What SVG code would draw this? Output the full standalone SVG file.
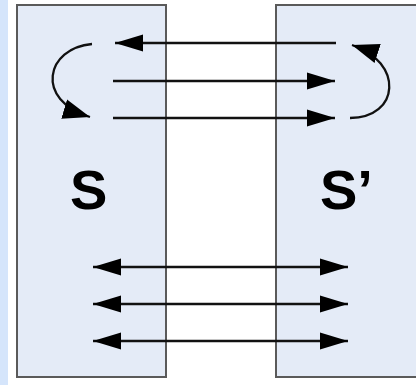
<svg xmlns="http://www.w3.org/2000/svg" width="416" height="385" viewBox="0 0 416 385">
  <style>
    .frame { fill: #e4ebf7; stroke: #5a5a5a; stroke-width: 2; }
    .label { font-family: "Liberation Sans", Arial, sans-serif; font-weight: bold; font-size: 56px; fill: #000; }
    .link { fill: none; stroke: #111; stroke-width: 2.6; }
    .loop { fill: none; stroke: #111; stroke-width: 2.3; marker-end: url(#loophead); }
    .one { marker-end: url(#head); }
    .both { marker-start: url(#head); marker-end: url(#head); }
  </style>
  <defs>
    <marker id="head" markerUnits="userSpaceOnUse" markerWidth="30" markerHeight="20" viewBox="0 0 30 20" refX="28" refY="10" orient="auto-start-reverse">
      <path d="M0,1.5 L28,10 L0,18.5 Z" fill="#000"/>
    </marker>
    <marker id="loophead" markerUnits="userSpaceOnUse" markerWidth="30" markerHeight="24" viewBox="0 0 30 24" refX="27" refY="12" orient="auto">
      <path d="M0,2 L27,12 L0,22 Z" fill="#000"/>
    </marker>
  </defs>

  <rect x="0" y="0" width="416" height="385" fill="#ffffff"/>
  <rect x="0" y="0" width="8" height="385" fill="#d5e5fb"/>

  <g id="node-s">
    <rect class="frame" x="17" y="5" width="149" height="372"/>
    <text class="label" x="70" y="209">S</text>
  </g>

  <g id="node-s-prime">
    <rect class="frame" x="276" y="5" width="150" height="372"/>
    <text class="label" x="320" y="209">S’</text>
  </g>

  <g id="connectors">
    <line class="link one" x1="336" y1="43" x2="115" y2="43"/>
    <line class="link one" x1="113" y1="81" x2="335" y2="81"/>
    <line class="link one" x1="113" y1="118" x2="335" y2="118"/>
    <path class="loop" d="M92,44 C46,48 34,100 90,117"/>
    <path class="loop" d="M350,118 C400,118 404,62 352,45"/>
    <line class="link both" x1="93" y1="267" x2="348" y2="267"/>
    <line class="link both" x1="93" y1="304" x2="348" y2="304"/>
    <line class="link both" x1="93" y1="341" x2="348" y2="341"/>
  </g>
</svg>
